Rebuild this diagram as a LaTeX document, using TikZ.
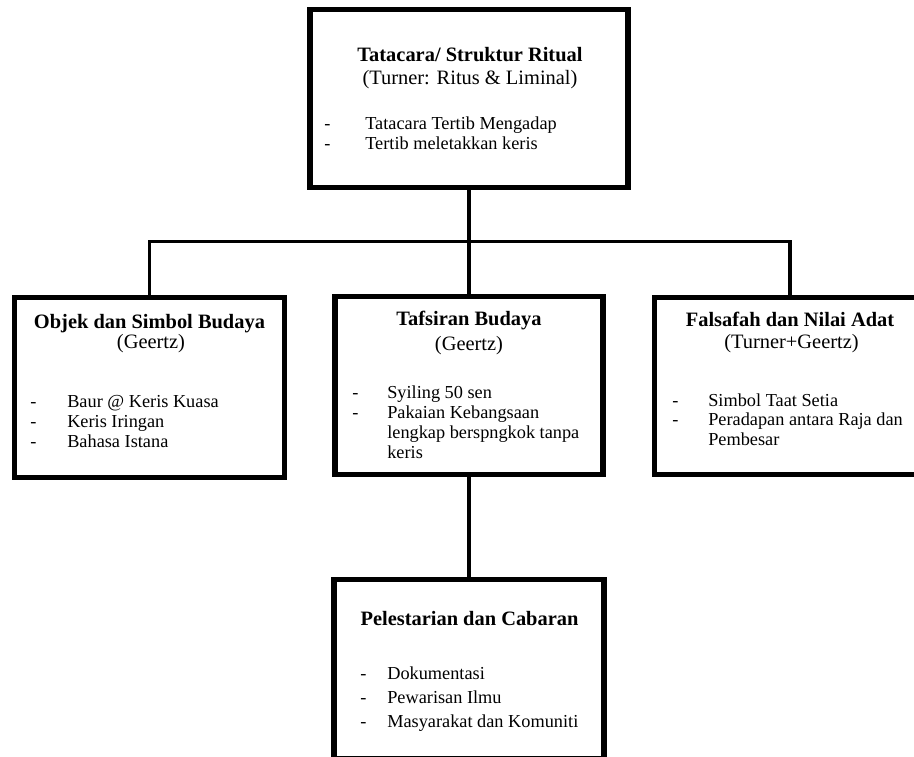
\documentclass[tikz,border=0pt]{standalone}
\usepackage{fontspec}
\setmainfont{Liberation Serif}
\newlength\pxu
\setlength\pxu{0.656pt}
\tikzset{
  box/.style={draw, line width=3.3pt, inner sep=0pt},
  trunk/.style={line width=2.8pt},
  branch/.style={line width=2.2pt},
  head/.style={font=\fontsize{13.4}{15}\selectfont\bfseries, anchor=base, inner sep=0pt},
  sub/.style={font=\fontsize{13.4}{15}\selectfont, anchor=base, inner sep=0pt},
  item/.style={font=\fontsize{12}{13}\selectfont, anchor=base west, inner sep=0pt}
}
\begin{document}
\begin{tikzpicture}[x=\pxu, y=-\pxu]
  \useasboundingbox (0,0) rectangle (914,756);

  % Boxes
  \node[box, minimum width=318\pxu, minimum height=178\pxu] (ritual) at (469, 98.5) {};
  \node[box, minimum width=270\pxu, minimum height=180\pxu] (objek) at (149.5, 387.5) {};
  \node[box, minimum width=268\pxu, minimum height=178\pxu] (tafsiran) at (469, 385.5) {};
  \node[box, minimum width=271\pxu, minimum height=177\pxu] (falsafah) at (790, 386) {};
  \node[box, minimum width=270\pxu, minimum height=179\pxu] (lestari) at (469, 669) {};

  % Connectors
  \coordinate (bus) at (469, 241.7);
  \draw[trunk] (ritual) -- (tafsiran);
  \draw[trunk] (tafsiran) -- (lestari);
  \draw[branch] (objek.north) |- (bus) -| (falsafah.north);

  % Tatacara
  \node[head] (ritual-head) at (470, 61) {Tatacara/ Struktur Ritual};
  \node[sub] (ritual-sub) at (470, 84.5) {(Turner: Ritus \& Liminal)};
  \foreach \d/\txt [count=\i] in {-/Tatacara Tertib Mengadap, -/Tertib meletakkan keris}
    \node[item] (ritual-item\i) at (324, {109+20*\i}) {\makebox[41\pxu][l]{\d}\txt};

  % Objek
  \node[head] (objek-head) at (149.5, 328) {Objek dan Simbol Budaya};
  \node[sub] (objek-sub) at (151, 348.5) {(Geertz)};
  \foreach \d/\txt [count=\i] in {-/Baur @ Keris Kuasa, -/Keris Iringan, -/Bahasa Istana}
    \node[item] (objek-item\i) at (30, {387+20*\i}) {\makebox[37\pxu][l]{\d}\txt};

  % Tafsiran
  \node[head] (tafsiran-head) at (469, 325) {Tafsiran Budaya};
  \node[sub] (tafsiran-sub) at (469, 350) {(Geertz)};
  \foreach \d/\txt [count=\i] in {-/Syiling 50 sen, -/Pakaian Kebangsaan, {}/lengkap berspngkok tanpa, {}/keris}
    \node[item] (tafsiran-item\i) at (352, {378+20*\i}) {\makebox[35\pxu][l]{\d}\txt};

  % Falsafah
  \node[head] (falsafah-head) at (790, 326.7) {Falsafah dan Nilai Adat};
  \node[sub] (falsafah-sub) at (791.5, 348) {(Turner+Geertz)};
  \foreach \d/\txt [count=\i] in {-/Simbol Taat Setia, -/Peradapan antara Raja dan, {}/Pembesar}
    \node[item] (falsafah-item\i) at (672, {387.5+19.2*\i}) {\makebox[36\pxu][l]{\d}\txt};

  % Pelestarian
  \node[head] (lestari-head) at (469.5, 625) {Pelestarian dan Cabaran};
  \foreach \d/\txt [count=\i] in {-/Dokumentasi, -/Pewarisan Ilmu, -/Masyarakat dan Komuniti}
    \node[item] (lestari-item\i) at (360, {655+24*\i}) {\makebox[27\pxu][l]{\d}\txt};
\end{tikzpicture}
\end{document}
